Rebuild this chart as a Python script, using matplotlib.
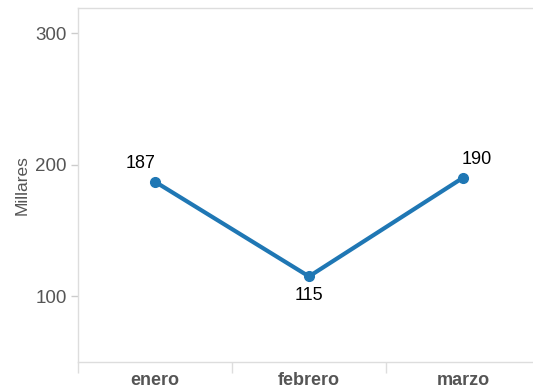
import matplotlib.pyplot as plt
import numpy as np

plt.rcParams['font.family'] = ['Liberation Sans', 'DejaVu Sans']

meses = ['enero', 'febrero', 'marzo']
valores = [187, 115, 190]
offsets = [(-14, 18), (0, -19), (14, 18)]

fig = plt.figure(figsize=(5.33, 3.9), dpi=100)
ax = fig.add_axes([78/533, 28/390, 462/533, 354/390])

x = np.arange(len(meses))
ax.plot(x, valores, color='#1f77b4', lw=3, marker='o', ms=7, solid_capstyle='round')

for xi, v, (dx, dy) in zip(x, valores, offsets):
    ax.annotate(str(v), (xi, v), xytext=(dx, dy), textcoords='offset pixels',
                ha='center', va='center', fontsize=13, color='black')

ax.set_xlim(-0.5, 2.5)
ax.set_ylim(50, 319)
ax.set_yticks([100, 200, 300])
ax.set_xticks(x)
ax.set_xticklabels(meses, fontweight='bold')
ax.set_xticks([-0.5, 0.5, 1.5], minor=True)
ax.tick_params(axis='x', which='major', length=0, labelsize=13, labelcolor='#555555', pad=7)
ax.tick_params(axis='x', which='minor', length=8, color='#dddddd', width=1)
ax.tick_params(axis='y', length=5, color='#cccccc', width=1, labelsize=13.5, labelcolor='#555555', pad=3)
ax.set_ylabel('Millares', fontsize=12.5, color='#555555', labelpad=4)

for s in ['left', 'top', 'bottom']:
    ax.spines[s].set_color('#dddddd')
    ax.spines[s].set_linewidth(1)
ax.spines['right'].set_color('none')
ax.spines['right'].set_visible(False)

fig.savefig('out.png', dpi=100)
